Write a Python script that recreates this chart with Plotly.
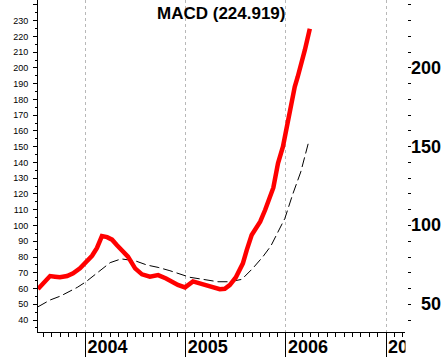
import plotly.graph_objects as go

# ---- data ----
macd_dates = [
    "2003-07-12", "2003-08-07", "2003-08-25", "2003-09-12", "2003-09-30", "2003-10-26",
    "2003-11-17", "2003-12-12", "2004-01-03", "2004-01-25", "2004-02-12", "2004-03-01",
    "2004-03-20", "2004-04-07", "2004-04-25", "2004-05-13", "2004-06-04", "2004-06-30",
    "2004-07-25", "2004-08-23", "2004-09-22", "2004-10-21", "2004-11-15", "2004-12-03",
    "2004-12-29", "2005-01-27", "2005-03-05", "2005-04-10", "2005-05-05", "2005-05-23",
    "2005-06-10", "2005-07-02", "2005-07-28", "2005-08-11", "2005-08-29", "2005-09-29",
    "2005-10-17", "2005-11-16", "2005-12-03", "2005-12-21", "2006-01-09", "2006-01-22",
    "2006-02-02", "2006-02-13", "2006-02-27", "2006-03-11", "2006-03-29",
]
macd_values = [
    59.7, 64.3, 67.9, 67.5, 67.1, 67.9,
    69.6, 72.8, 76.5, 80.8, 85.8, 93.3,
    92.6, 91.0, 87.5, 84.4, 80.2, 72.8,
    69.0, 67.5, 68.5, 66.4, 63.7, 62.3,
    60.7, 64.5, 62.6, 60.7, 59.6, 59.8,
    62.2, 67.0, 76.0, 84.4, 93.9, 102.4,
    109.8, 124.0, 139.5, 150.0, 167.0, 179.7,
    188.0, 194.4, 203.0, 211.4, 224.9,
]
signal_dates = [
    "2003-07-12", "2003-08-25", "2003-10-02", "2003-10-30", "2003-12-02", "2004-01-03",
    "2004-01-29", "2004-02-23", "2004-03-31", "2004-05-10", "2004-06-30", "2004-08-12",
    "2004-09-22", "2004-11-04", "2004-12-11", "2005-01-16", "2005-03-05", "2005-04-28",
    "2005-06-10", "2005-07-24", "2005-09-02", "2005-10-09", "2005-11-07", "2005-12-02",
    "2005-12-28", "2006-01-26", "2006-02-24", "2006-03-25",
]
signal_values = [
    48.4, 52.7, 55.2, 57.5, 60.7, 64.3,
    68.0, 71.7, 76.4, 78.8, 77.6, 74.9,
    73.4, 71.3, 69.2, 67.1, 65.8, 64.3,
    64.3, 65.8, 72.8, 80.2, 87.0, 96.0,
    104.5, 120.0, 134.0, 153.2,
]
year_ticks = ["2004-01-01", "2005-01-01", "2006-01-01", "2007-01-01"]
year_labels = ["2004", "2005", "2006", "2007"]
left_ticks = list(range(40, 250, 10))
left_labels = [str(v) if v <= 230 else "" for v in left_ticks]
right_ticks = list(range(40, 250, 10))
right_labels = [50, 100, 150, 200]
title_text = "MACD (224.919)"

FONT = "Liberation Sans, Arial, sans-serif"
W, H = 445, 357
L, R, T, B = 38, 38, 0, 25
plot_w = W - L - R
dom_end = (plot_w - 2) / plot_w
yrange = [32.4, 243.1]

fig = go.Figure()
fig.add_trace(go.Scatter(x=signal_dates, y=signal_values, mode="lines",
                         line=dict(color="black", width=1, dash="10px,4px")))
fig.add_trace(go.Scatter(x=macd_dates, y=macd_values, mode="lines",
                         line=dict(color="#ff0000", width=4.5)))
fig.add_trace(go.Scatter(x=[], y=[], yaxis="y2", showlegend=False))

annotations = [
    dict(text=title_text, xref="paper", yref="paper", x=dom_end / 2, y=1,
         xanchor="center", yanchor="top", yshift=-2, showarrow=False,
         font=dict(family=FONT, size=17, color="black", weight="bold"))
]
for v in right_labels:
    annotations.append(dict(text=str(v), xref="paper", yref="y", x=(443 - L) / plot_w, y=v,
                            xanchor="right", yanchor="middle", showarrow=False,
                            font=dict(family=FONT, size=18, color="black", weight="bold")))

fig.update_layout(
    width=W, height=H,
    margin=dict(l=L, r=R, t=T, b=B, pad=0, autoexpand=False),
    paper_bgcolor="white", plot_bgcolor="white",
    showlegend=False,
    xaxis=dict(
        type="date", range=["2003-07-12", "2007-03-11"], domain=[0, dom_end],
        showline=True, linecolor="black", linewidth=1,
        tickvals=year_ticks, ticktext=year_labels,
        ticks="outside", ticklen=24, tickcolor="black", tickwidth=1,
        tickfont=dict(family=FONT, size=18, color="black", weight="bold"),
        ticklabelshift=22, ticklabelstandoff=-26,
        showgrid=True, gridcolor="#b8b8b8", gridwidth=1, griddash="3px,3px",
        zeroline=False, automargin=False,
        minor=dict(dtick="M1", tick0="2004-01-01", ticks="outside", ticklen=4,
                   tickcolor="black", tickwidth=1, showgrid=False),
    ),
    yaxis=dict(
        range=yrange, tickvals=left_ticks, ticktext=left_labels,
        ticks="outside", ticklen=4, tickcolor="black", tickwidth=1,
        showline=True, linecolor="black", linewidth=1,
        showgrid=False, zeroline=False, automargin=False,
        tickfont=dict(family=FONT, size=9, color="black"),
        ticklabelstandoff=3,
        minor=dict(dtick=5, tick0=0, ticks="outside", ticklen=2, tickcolor="black",
                   showgrid=False),
    ),
    yaxis2=dict(
        range=yrange, overlaying="y", side="right", anchor="free", position=1,
        tickvals=right_ticks, ticks="outside", ticklen=3, tickcolor="black",
        showticklabels=False, showline=False, showgrid=False, zeroline=False,
        automargin=False,
    ),
    annotations=annotations,
    shapes=[dict(type="rect", xref="paper", yref="paper", layer="above",
                 x0=dom_end + 0.5 / plot_w, x1=1.2, y0=-0.2, y1=-1.0 / (H - T - B),
                 fillcolor="white", line=dict(width=0))],
)

fig.write_html("out.html", config={"displayModeBar": False, "staticPlot": True},
               post_script="document.body.style.margin='0';")
